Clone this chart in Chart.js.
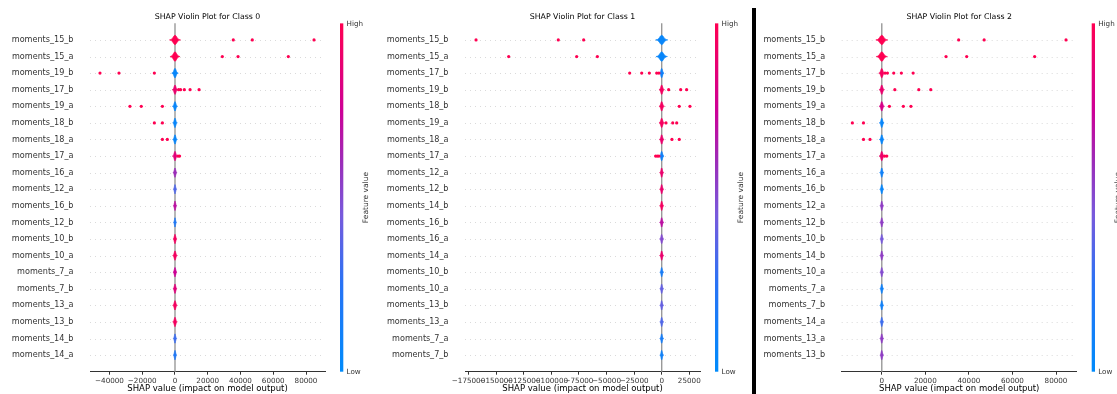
<!DOCTYPE html>
<html>
<head>
<meta charset="utf-8">
<script src="https://cdn.jsdelivr.net/npm/chart.js@4"></script>
<style>
  body { margin: 0; background: #fff; width: 1117px; height: 394px; overflow: hidden; position: relative; }
  canvas { position: absolute; top: 0; }
  .bar { position: absolute; left: 752px; top: 8px; width: 4px; height: 386px; background: #000; }
</style>
</head>
<body>
<canvas id="c0" width="380" height="394" style="left:0px"></canvas>
<canvas id="c1" width="377" height="394" style="left:375px"></canvas>
<canvas id="c2" width="360" height="394" style="left:757px"></canvas>
<div class="bar"></div>
<script>
"use strict"

// ---------------- Class 0 ----------------
const features0 = ["moments_15_b", "moments_15_a", "moments_19_b", "moments_17_b", "moments_19_a",
  "moments_18_b", "moments_18_a", "moments_17_a", "moments_16_a", "moments_12_a", "moments_16_b",
  "moments_12_b", "moments_10_b", "moments_10_a", "moments_7_a", "moments_7_b", "moments_13_a",
  "moments_13_b", "moments_14_b", "moments_14_a"];
const points0 = [
  [35600, 47200, 84900],
  [28900, 38500, 69200],
  [-45800, -34200, -12600],
  [2200, 3400, 5700, 9200, 14700],
  [-27500, -20600, -7700],
  [-12600, -7700],
  [-7700, -4700],
  [1800, 2800],
  [], [], [], [], [], [], [], [], [], [], [], []
];
const coreSd0 = [1100, 1000, 650, 550, 500, 450, 450, 500, 400, 350, 350, 300, 400, 450, 400, 400, 450, 450, 350, 350];
const coreValue0 = [1, 1, 0.05, 0.9, 0.05, 0.05, 0.05, 0.85, 0.6, 0.35, 0.7, 0.2, 0.95, 0.95, 0.75, 0.85, 0.95, 0.95, 0.3, 0.2];
const xTicks0 = [-40000, -20000, 0, 20000, 40000, 60000, 80000];
const xRange0 = [-51900, 91600];

// ---------------- Class 1 ----------------
const features1 = ["moments_15_b", "moments_15_a", "moments_17_b", "moments_19_b", "moments_18_b",
  "moments_19_a", "moments_18_a", "moments_17_a", "moments_12_a", "moments_12_b", "moments_14_b",
  "moments_16_b", "moments_16_a", "moments_14_a", "moments_10_b", "moments_10_a", "moments_13_b",
  "moments_13_a", "moments_7_a", "moments_7_b"];
const points1 = [
  [-168200, -93700, -70700],
  [-138600, -77000, -58300],
  [-29000, -18100, -11200, -4500, -2500],
  [6300, 17200, 22600],
  [15900, 25600],
  [3900, 10000, 13600],
  [9300, 15900],
  [-5500, -4000, -2500],
  [], [], [], [], [], [], [], [], [], [], [], []
];
const coreSd1 = [1800, 1700, 700, 800, 800, 800, 700, 700, 600, 600, 600, 600, 600, 600, 550, 550, 550, 550, 550, 550];
const coreValue1 = [0.05, 0.05, 0.1, 0.95, 0.95, 0.95, 0.9, 0.1, 0.9, 0.9, 0.95, 0.7, 0.5, 0.9, 0.15, 0.4, 0.4, 0.35, 0.15, 0.1];
const xTicks1 = [-175000, -150000, -125000, -100000, -75000, -50000, -25000, 0, 25000];
const xRange1 = [-178200, 34700];

// ---------------- Class 2 ----------------
const features2 = ["moments_15_b", "moments_15_a", "moments_17_b", "moments_19_b", "moments_19_a",
  "moments_18_b", "moments_18_a", "moments_17_a", "moments_16_a", "moments_16_b", "moments_12_a",
  "moments_12_b", "moments_10_b", "moments_14_b", "moments_10_a", "moments_7_a", "moments_7_b",
  "moments_14_a", "moments_13_a", "moments_13_b"];
const points2 = [
  [35300, 47000, 84600],
  [29500, 39000, 70200],
  [1500, 2600, 5500, 9000, 14400],
  [6000, 17000, 22500],
  [3500, 9900, 13400],
  [-13500, -8400],
  [-8400, -5400],
  [1300, 2300],
  [], [], [], [], [], [], [], [], [], [], [], []
];
const coreSd2 = [900, 850, 450, 400, 400, 350, 350, 400, 300, 300, 280, 280, 280, 280, 280, 280, 280, 280, 280, 280];
const coreValue2 = [1, 1, 0.95, 0.9, 0.8, 0.05, 0.05, 0.9, 0.1, 0.05, 0.55, 0.55, 0.45, 0.55, 0.5, 0.1, 0.1, 0.3, 0.55, 0.55];
const xTicks2 = [0, 20000, 40000, 60000, 80000];
const xRange2 = [-18400, 89500];

const RED = "#ff0052";
const cmap = [
  [0, [0, 139, 251]],
  [0.25, [40, 115, 245]],
  [0.45, [120, 90, 220]],
  [0.6, [155, 45, 185]],
  [0.75, [205, 0, 150]],
  [1, [255, 0, 82]]
];

Chart.defaults.font.family = "'DejaVu Sans', sans-serif";

function colorAt(t) {
  for (let i = 1; i < cmap.length; i++) {
    if (t <= cmap[i][0]) {
      const a = cmap[i - 1], b = cmap[i];
      const f = (t - a[0]) / (b[0] - a[0]);
      const c = a[1].map((v, k) => Math.round(v + (b[1][k] - v) * f));
      return `rgb(${c[0]},${c[1]},${c[2]})`;
    }
  }
  return `rgb(255,0,82)`;
}

const fmt = (v) => v < 0 ? "\u2212" + Math.abs(v) : String(v);

function buildChart(id, title, features, points, coreSd, coreValue, xTicks, xRange, axisWidth, padRight) {
  const n = features.length;
  const rows = features.map((f, i) => n - 1 - i);
  const data = [];
  points.forEach((row, i) => row.forEach(v => data.push({ x: v, y: n - 1 - i })));

  const violin = {
    id: "violin_" + id,
    beforeDatasetsDraw(chart) {
      const ctx = chart.ctx, a = chart.chartArea;
      const xs = chart.scales.x, ys = chart.scales.y;
      ctx.save();
      // dotted row lines
      ctx.strokeStyle = "#d0d0d0";
      ctx.lineWidth = 0.8;
      ctx.setLineDash([1, 4]);
      rows.forEach(r => {
        const y = Math.round(ys.getPixelForValue(r)) + 0.5;
        ctx.beginPath(); ctx.moveTo(a.left, y); ctx.lineTo(a.right, y); ctx.stroke();
      });
      ctx.setLineDash([]);
      // zero line
      const x0 = xs.getPixelForValue(0);
      ctx.strokeStyle = "#999999";
      ctx.lineWidth = 1.4;
      ctx.beginPath(); ctx.moveTo(x0, a.top); ctx.lineTo(x0, a.bottom); ctx.stroke();
      // violin cores
      rows.forEach((r, i) => {
        const cy = ys.getPixelForValue(r);
        const h = Math.abs(ys.getPixelForValue(r + 0.28) - cy);
        const sd = coreSd[i];
        ctx.beginPath();
        for (let k = -30; k <= 30; k++) {
          const t = k / 10;
          const px = xs.getPixelForValue(t * sd);
          const py = cy - h * Math.exp(-t * t / 2);
          if (k === -30) ctx.moveTo(px, py); else ctx.lineTo(px, py);
        }
        for (let k = 30; k >= -30; k--) {
          const t = k / 10;
          ctx.lineTo(xs.getPixelForValue(t * sd), cy + h * Math.exp(-t * t / 2));
        }
        ctx.closePath();
        const col = colorAt(coreValue[i]);
        ctx.fillStyle = col;
        ctx.strokeStyle = col;
        ctx.lineWidth = 0.8;
        ctx.fill();
        ctx.stroke();
      });
      ctx.restore();
    },
    afterDraw(chart) {
      const ctx = chart.ctx, a = chart.chartArea;
      const bx = a.right + 15;
      ctx.save();
      const g = ctx.createLinearGradient(0, a.bottom, 0, a.top);
      cmap.forEach(s => g.addColorStop(s[0], `rgb(${s[1].join(",")})`));
      ctx.fillStyle = g;
      ctx.fillRect(bx, a.top, 3.3, a.bottom - a.top);
      ctx.fillStyle = "#333";
      ctx.font = "7.2px 'DejaVu Sans', sans-serif";
      ctx.textAlign = "left";
      ctx.textBaseline = "middle";
      ctx.fillText("High", bx + 6.5, a.top + 1);
      ctx.fillText("Low", bx + 6.5, a.bottom);
      ctx.translate(a.right + 41, (a.top + a.bottom) / 2);
      ctx.rotate(-Math.PI / 2);
      ctx.textAlign = "center";
      ctx.font = "7.5px 'DejaVu Sans', sans-serif";
      ctx.fillText("Feature value", 0, 0);
      ctx.restore();
    }
  };

  return new Chart(document.getElementById(id), {
    type: "scatter",
    data: {
      datasets: [{
        data: data,
        pointRadius: 1.6,
        pointHoverRadius: 1.6,
        backgroundColor: RED,
        borderWidth: 0
      }]
    },
    options: {
      responsive: false,
      animation: false,
      events: [],
      layout: { padding: { left: 0, right: padRight, top: 0, bottom: 0 } },
      plugins: {
        legend: { display: false },
        tooltip: { enabled: false },
        title: {
          display: true,
          text: title,
          fullSize: false,
          color: "#000",
          font: { size: 7.8, weight: "normal" },
          padding: { top: 12, bottom: 2 }
        }
      },
      scales: {
        x: {
          type: "linear",
          min: xRange[0],
          max: xRange[1],
          afterBuildTicks: (s) => { s.ticks = xTicks.map(v => ({ value: v })); },
          afterFit: (s) => { s.height = 22.3; },
          ticks: { callback: fmt, color: "#333", font: { size: 7.2 }, maxRotation: 0, minRotation: 0, autoSkip: false, padding: 2.5 },
          grid: { drawOnChartArea: false, drawTicks: true, tickLength: 3, tickColor: "#333", color: "#333" },
          border: { display: true, color: "#333", width: 1 },
          title: { display: true, text: "SHAP value (impact on model output)", color: "#000", font: { size: 8.5 }, padding: 0 }
        },
        y: {
          type: "linear",
          min: -1,
          max: n,
          afterBuildTicks: (s) => { s.ticks = rows.map(v => ({ value: v })); },
          afterFit: (s) => { s.width = axisWidth; },
          ticks: { callback: (v) => features[n - 1 - v], color: "#333", font: { size: 8.1 }, padding: 16.5, autoSkip: false },
          grid: { display: false, drawTicks: false },
          border: { display: false }
        }
      }
    },
    plugins: [violin]
  });
}

buildChart("c0", "SHAP Violin Plot for Class 0", features0, points0, coreSd0, coreValue0, xTicks0, xRange0, 90, 55);
buildChart("c1", "SHAP Violin Plot for Class 1", features1, points1, coreSd1, coreValue1, xTicks1, xRange1, 90, 52);
buildChart("c2", "SHAP Violin Plot for Class 2", features2, points2, coreSd2, coreValue2, xTicks2, xRange2, 84.7, 40.3);
</script>
</body>
</html>
